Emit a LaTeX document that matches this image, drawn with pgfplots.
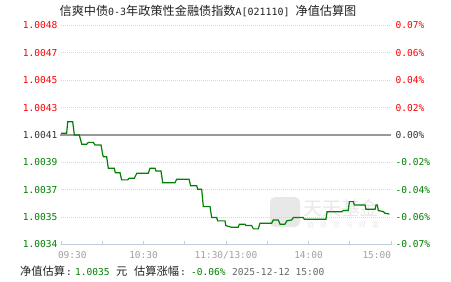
\documentclass[border=0pt]{standalone}
\usepackage{pgfplots}
\pgfplotsset{compat=1.18}
\usepackage{fontspec}
\setmainfont{DejaVu Sans}
\newfontfamily\mono{DejaVu Sans Mono}
\newfontfamily\cjk{Noto Sans CJK SC}
\definecolor{upred}{RGB}{255,0,0}
\definecolor{dngreen}{RGB}{0,128,0}
\definecolor{basegray}{RGB}{51,51,51}
\definecolor{axblue}{RGB}{192,206,222}
\definecolor{gridgray}{RGB}{215,215,215}
\definecolor{xlab}{RGB}{160,160,160}
\definecolor{linegreen}{RGB}{0,128,0}
\definecolor{wm}{RGB}{232,232,232}
\definecolor{titlec}{RGB}{34,34,34}
\definecolor{datec}{RGB}{102,102,102}
\definecolor{zerol}{RGB}{153,153,153}
\begin{document}
\begin{tikzpicture}[x=1bp,y=1bp]
\useasboundingbox (0,0) rectangle (451,281);
% watermark
\fill[wm, rounded corners=5bp] (270,54) rectangle (300,84);
\node[text=wm, font=\cjk\fontsize{19}{19}\selectfont, anchor=west, inner sep=0pt] at (303,73) {天天基金};
\node[text=wm, font=\cjk\fontsize{7}{7}\selectfont, anchor=west, inner sep=0pt] at (307,56) {链\hspace{6bp}接\hspace{6bp}您\hspace{6bp}与\hspace{6bp}财\hspace{6bp}富};
% title
\node[text=titlec, anchor=center, inner sep=0pt] at (208,270) {{\cjk\fontsize{12.2}{13}\selectfont 信爽中债}{\mono\fontsize{10}{12}\selectfont 0-3}{\cjk\fontsize{12.2}{13}\selectfont 年政策性金融债指数}{\mono\fontsize{10}{12}\selectfont A[021110] }{\cjk\fontsize{12.2}{13}\selectfont 净值估算图}};
% bottom info line
\node[anchor=base west, inner sep=0pt, text=titlec, font=\cjk\fontsize{11.3}{12}\selectfont] at (20,6) {净值估算};
\node[anchor=base west, inner sep=0pt, text=titlec, font=\mono\fontsize{9.6}{11}\selectfont] at (66,6) {:};
\node[anchor=base west, inner sep=0pt, text=dngreen, font=\mono\fontsize{9.6}{11}\selectfont] at (75,6) {1.0035};
\node[anchor=base west, inner sep=0pt, text=titlec, font=\cjk\fontsize{11.3}{12}\selectfont] at (116,6) {元};
\node[anchor=base west, inner sep=0pt, text=titlec, font=\cjk\fontsize{11.3}{12}\selectfont] at (134,6) {估算涨幅};
\node[anchor=base west, inner sep=0pt, text=titlec, font=\mono\fontsize{9.6}{11}\selectfont] at (180,6) {:};
\node[anchor=base west, inner sep=0pt, text=dngreen, font=\mono\fontsize{9.6}{11}\selectfont] at (191,6) {-0.06\%};
\node[anchor=base west, inner sep=0pt, text=datec, font=\mono\fontsize{9.6}{11}\selectfont] at (232,6) {2025-12-12 15:00};

\begin{axis}[at={(61bp,146bp)}, anchor=origin, width=330bp, height=219bp, scale only axis,
  xmin=0, xmax=240, ymin=-0.07, ymax=0.07,
  axis x line*=bottom, axis y line*=left,
  y axis line style={draw=none},
  x axis line style={axblue, line width=1bp, -},
  xtick={0,60,120,180,240}, minor xtick={30,90,150,210},
  xticklabels={\makebox[0pt][l]{\hspace*{-3bp}09:30}, 10:30, 11:30/13:00, 14:00, \makebox[0pt][r]{15:00}},
  tick align=inside, major tick length=4bp, minor tick length=4bp,
  xtick style={axblue, line width=1bp},
  minor tick style={axblue, line width=1bp},
  scaled y ticks=false,
  ytick={-0.07,-0.0525,-0.035,-0.0175,0,0.0175,0.035,0.0525,0.07},
  yticklabels={{\textcolor{dngreen}{1.0034}},{\textcolor{dngreen}{1.0035}},{\textcolor{dngreen}{1.0037}},{\textcolor{dngreen}{1.0039}},{\textcolor{basegray}{1.0041}},{\textcolor{upred}{1.0043}},{\textcolor{upred}{1.0045}},{\textcolor{upred}{1.0047}},{\textcolor{upred}{1.0048}}},
  ytick style={draw=none},
  ymajorgrids, major grid style={gridgray, dash pattern=on 1bp off 1bp, line width=0.8bp},
  yticklabel style={font=\mono\fontsize{9.6}{10}\selectfont, inner sep=0pt, anchor=east, xshift=-3.5bp},
  xticklabel style={font=\mono\fontsize{9.5}{10}\selectfont, text=xlab, inner sep=0pt, anchor=north, yshift=-7bp},
  clip=false,
]
\end{axis}

\begin{axis}[at={(61bp,146bp)}, anchor=origin, width=330bp, height=219bp, scale only axis,
  xmin=0, xmax=240, ymin=-0.07, ymax=0.07,
  axis x line=none, axis y line*=right,
  y axis line style={draw=none},
  scaled y ticks=false,
  ytick={-0.07,-0.0525,-0.035,-0.0175,0,0.0175,0.035,0.0525,0.07},
  yticklabels={{\textcolor{dngreen}{-0.07\%}},{\textcolor{dngreen}{-0.06\%}},{\textcolor{dngreen}{-0.04\%}},{\textcolor{dngreen}{-0.02\%}},{\textcolor{basegray}{0.00\%}},{\textcolor{upred}{0.02\%}},{\textcolor{upred}{0.04\%}},{\textcolor{upred}{0.06\%}},{\textcolor{upred}{0.07\%}}},
  ytick style={draw=none},
  yticklabel style={font=\mono\fontsize{9.6}{10}\selectfont, inner sep=0pt, anchor=west, xshift=4.5bp},
  clip=false,
]
\draw[zerol, line width=1.5bp] (axis cs:-0.7,0) -- (axis cs:240,0);
\addplot[linegreen, line width=1.2bp, mark=none, line join=miter] coordinates {
(0,0.0011)(4.1,0.0011)(4.9,0.0085)(8.5,0.0085)(9.7,0)(13.3,0)(15.1,-0.0059)(18.7,-0.0059)(19.9,-0.0047)(23.5,-0.0047)(24.7,-0.0064)(29.1,-0.0064)(30.3,-0.0123)(30.8,-0.0139)(33.2,-0.0139)(34.4,-0.0213)(38.8,-0.0213)(39.5,-0.0241)(42.9,-0.0241)(44.1,-0.0287)(48.5,-0.0287)(49.5,-0.0277)(53.3,-0.0277)(55.1,-0.0245)(63.5,-0.0245)(64.7,-0.0213)(68.4,-0.0213)(69.1,-0.0230)(72.7,-0.0230)(74.0,-0.0305)(82.9,-0.0305)(84.1,-0.0283)(93.1,-0.0283)(94.3,-0.0324)(98.7,-0.0324)(99.4,-0.0347)(102.3,-0.0347)(103.5,-0.0458)(108.4,-0.0458)(109.1,-0.0500)(109.6,-0.0528)(113.2,-0.0528)(114.0,-0.0549)(119.3,-0.0549)(119.8,-0.0579)(124.1,-0.0590)(128.9,-0.0590)(129.7,-0.0570)(133.8,-0.0570)(134.5,-0.0579)(138.7,-0.0579)(139.9,-0.0600)(143.5,-0.0600)(144.7,-0.0564)(153.2,-0.0564)(154.4,-0.0543)(158.0,-0.0543)(159.3,-0.0570)(162.9,-0.0570)(164.1,-0.0549)(167.8,-0.0543)(168.9,-0.0528)(176.2,-0.0528)(176.9,-0.0538)(192.7,-0.0538)(193.5,-0.0490)(204.1,-0.0490)(205.3,-0.0483)(208.9,-0.0483)(209.7,-0.0426)(212.6,-0.0426)(213.3,-0.0447)(221.1,-0.0447)(221.8,-0.0475)(228.4,-0.0475)(229.1,-0.0447)(230.0,-0.0447)(230.8,-0.0483)(234.5,-0.0490)(235.6,-0.0500)(238.8,-0.0505)
};
\end{axis}
\end{tikzpicture}
\end{document}
